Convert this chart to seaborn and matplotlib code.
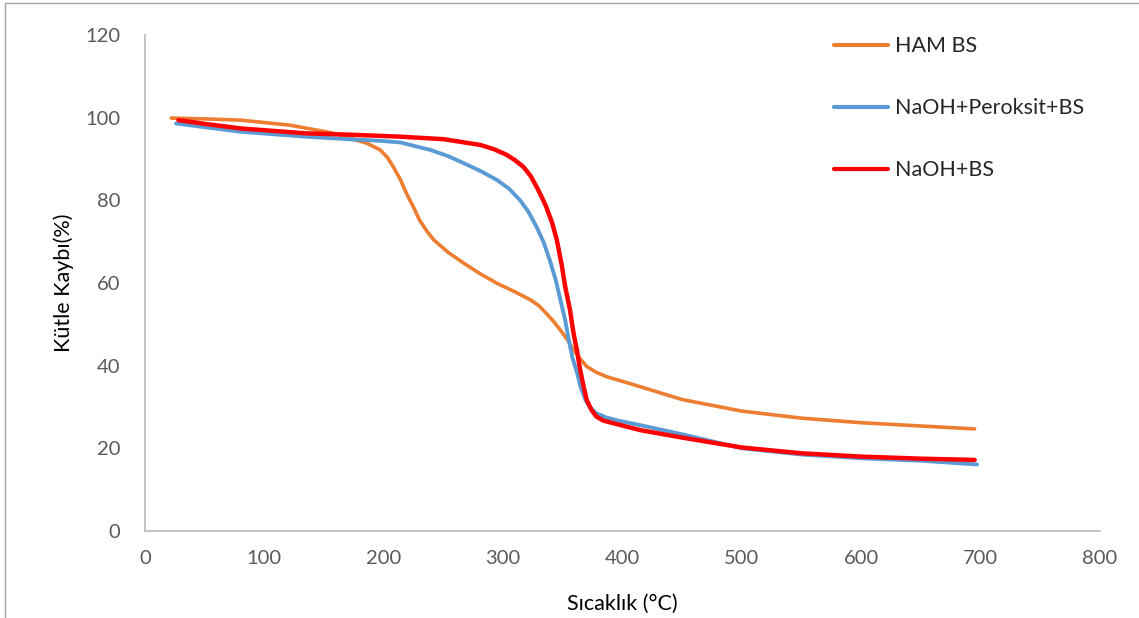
import matplotlib
matplotlib.use("Agg")
import matplotlib.pyplot as plt
import seaborn as sns
import pandas as pd
from matplotlib.lines import Line2D

# ---- data ----
ham_x = [22, 50, 80, 121, 157, 186, 197, 203, 208, 214, 219, 225, 230, 236, 242, 254, 267, 281, 295, 309, 323, 330, 336, 342, 348, 354, 359, 365, 370, 378, 387, 400, 415, 450, 500, 550, 600, 650, 695]
ham_y = [99.9, 99.7, 99.4, 98.2, 96.3, 93.8, 92.2, 90.4, 88.1, 85.0, 81.7, 78.3, 75.2, 72.6, 70.4, 67.4, 64.8, 62.2, 59.9, 58.0, 55.9, 54.5, 52.7, 50.8, 48.6, 46.2, 43.8, 41.5, 39.8, 38.4, 37.3, 36.2, 34.9, 31.8, 29.0, 27.3, 26.2, 25.4, 24.7]

per_x = [26, 50, 80, 135, 170, 197, 214, 239, 253, 267, 281, 295, 305, 314, 321, 328, 334, 339, 344, 348, 352, 355, 358, 362, 365, 369, 373, 378, 386, 395, 415, 450, 500, 550, 600, 650, 697]
per_y = [98.6, 97.7, 96.6, 95.4, 94.8, 94.4, 94.0, 92.2, 90.8, 89.0, 87.1, 84.9, 82.8, 80.1, 77.3, 73.6, 69.8, 65.6, 60.8, 55.9, 51.0, 46.2, 42.0, 38.2, 34.8, 31.7, 29.8, 28.5, 27.5, 26.8, 25.6, 23.4, 20.0, 18.5, 17.6, 17.0, 16.1]

naoh_x = [28, 50, 80, 135, 170, 197, 214, 250, 281, 293, 303, 310, 317, 323, 328, 332, 336, 341, 345, 349, 352, 356, 359, 362, 364, 367, 370, 374, 378, 384, 392, 415, 450, 500, 550, 600, 650, 695]
naoh_y = [99.4, 98.5, 97.4, 96.2, 95.9, 95.6, 95.4, 94.8, 93.4, 92.3, 91.0, 89.7, 88.1, 85.9, 83.3, 81.0, 78.5, 74.6, 70.4, 64.5, 59.1, 53.5, 47.8, 43.5, 39.8, 35.5, 31.7, 29.3, 27.7, 26.7, 26.1, 24.4, 22.6, 20.2, 18.8, 18.0, 17.5, 17.2]

series_names = ["HAM BS", "NaOH+Peroksit+BS", "NaOH+BS"]
colors = ["#ED7D31", "#5B9BD5", "#FF0000"]

x_ticks = [0, 100, 200, 300, 400, 500, 600, 700, 800]
y_ticks = [0, 20, 40, 60, 80, 100, 120]

frames = []
for name, xs, ys in zip(series_names, [ham_x, per_x, naoh_x], [ham_y, per_y, naoh_y]):
    frames.append(pd.DataFrame({"x": xs, "y": ys, "series": name}))
df = pd.concat(frames, ignore_index=True)

sns.set_theme(style="white")
plt.rcParams["font.family"] = ["Lato", "DejaVu Sans"]

fig = plt.figure(figsize=(11.39, 6.18), dpi=100)
ax = fig.add_axes([145/1139, 1-531/618, (1100-145)/1139, (531-35)/618])

widths = {"HAM BS": 2.6, "NaOH+Peroksit+BS": 2.8, "NaOH+BS": 3.2}
for name, col in zip(series_names, colors):
    sub = df[df["series"] == name]
    sns.lineplot(data=sub, x="x", y="y", ax=ax, color=col, lw=widths[name],
                 sort=False, estimator=None, legend=False,
                 solid_capstyle="round", solid_joinstyle="round")

ax.set_xlim(0, 800)
ax.set_ylim(0, 120)
ax.set_xticks(x_ticks)
ax.set_yticks(y_ticks)
ax.tick_params(axis="x", length=0, labelsize=14.5, colors="#595959", pad=14)
ax.tick_params(axis="y", length=0, labelsize=14.5, colors="#595959", pad=18)
for s in ["top", "right"]:
    ax.spines[s].set_visible(False)
for s in ["left", "bottom"]:
    ax.spines[s].set_color("#BFBFBF")
    ax.spines[s].set_linewidth(1.3)
ax.set_xlabel("Sıcaklık (°C)", fontsize=15.5, color="black", labelpad=19)
ax.set_ylabel("Kütle Kaybı(%)", fontsize=15.5, color="black", labelpad=8)

handles = [Line2D([0], [0], color=c, lw=3) for c in colors]
fig.legend(handles, series_names, loc="upper left",
           bbox_to_anchor=(815/1139, 1-17/618), frameon=False,
           fontsize=15.5, handlelength=2.5, handletextpad=0.3,
           labelspacing=1.95)

# figure border (partially visible)
fig.add_artist(Line2D([5/1139, 1], [1-3/618, 1-3/618], transform=fig.transFigure, color="#A6A6A6", lw=1))
fig.add_artist(Line2D([5/1139, 5/1139], [0, 1-3/618], transform=fig.transFigure, color="#A6A6A6", lw=1))

fig.savefig("out.png", dpi=100)
